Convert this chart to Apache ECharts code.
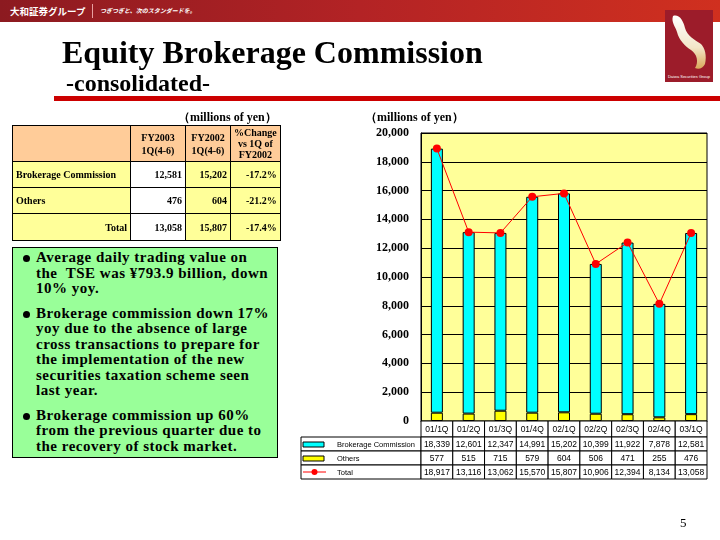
<!DOCTYPE html>
<html>
<head>
<meta charset="utf-8">
<script src="https://cdn.jsdelivr.net/npm/echarts@6/dist/echarts.min.js"></script>
<style>
  body { margin: 0; background: #fff; }
  #page { position: relative; width: 720px; height: 540px; overflow: hidden; font-family: "Liberation Serif", serif; }
  #chart { position: absolute; left: 0; top: 0; width: 720px; height: 540px; }
  .abs { position: absolute; z-index: 2; }
  #topbar { left: 0; top: 0; width: 720px; height: 22px; background: linear-gradient(to right, #8c1a20, #b32325 50%, #d0301f); }
  #brand { left: 10px; top: 4px; color: #fff; font: bold 9.5px "Noto Sans CJK JP"; }
  #sep { left: 92px; top: 4px; width: 1px; height: 14px; background: #e8a0a0; }
  #slogan { left: 100px; top: 6px; color: #fff; font: italic bold 6px "Noto Sans CJK JP"; }
  #title { left: 62px; top: 34px; font-weight: bold; font-size: 32px; line-height: 36px; }
  #subtitle { left: 66px; top: 70px; font-weight: bold; font-size: 24px; line-height: 26px; }
  #rule { left: 54px; top: 96px; width: 666px; height: 5px; background: #cc0000; }
  #unit1 { left: 178px; top: 109px; font-weight: bold; font-size: 12px; }
  #tbl { left: 12px; top: 125px; border-collapse: collapse; font-weight: bold; font-size: 10px; }
  #tbl td { border: 1px solid #000; padding: 0 3px; background: #ffff99; }
  #tbl tr.h td { background: #ffcc99; text-align: center; line-height: 13px; }
  #tbl td.w { background: #fff; }
  #tbl td.r { text-align: right; }
  #notes { left: 12px; top: 247px; width: 264px; height: 209px; background: #99ff99; border: 1px solid #000; }
  #notes ul { margin: 0; padding: 2px 0 0 23px; list-style: none; }
  #notes li { position: relative; font-weight: bold; font-size: 15px; line-height: 15.5px; margin-bottom: 9px; white-space: nowrap; letter-spacing: 0.5px; }
  #notes li::before { content: ""; position: absolute; left: -13px; top: 5px; width: 7px; height: 7px; border-radius: 50%; background: #000; }
  #pnum { left: 680px; top: 515px; font-size: 13px; }
  #logo { left: 665px; top: 10px; }
</style>
</head>
<body>
<div id="page">
  <div id="chart"></div>
  <div id="topbar" class="abs"></div>
  <div id="brand" class="abs">大和証券グループ</div>
  <div id="sep" class="abs"></div>
  <div id="slogan" class="abs">つぎつぎと、次のスタンダードを。</div>
  <svg id="logo" class="abs" width="48" height="72" viewBox="0 0 48 72">
    <defs>
      <linearGradient id="bird" x1="0" y1="0" x2="0" y2="1">
        <stop offset="0" stop-color="#ffffff"/>
        <stop offset="0.6" stop-color="#f3e6c8"/>
        <stop offset="1" stop-color="#d9a85a"/>
      </linearGradient>
    </defs>
    <rect width="48" height="72" fill="#9c1c2a"/>
    <path d="M8 6 C14 4 18 10 20 18 C22 26 30 30 36 34 C40 38 42 46 40 54 C38 58 34 60 30 58 C34 52 32 44 26 40 C20 36 14 30 12 22 C10 16 6 12 8 6 Z" fill="url(#bird)"/>
    <text x="24" y="68" text-anchor="middle" fill="#fff" font-size="4" font-family="Liberation Sans">Daiwa Securities Group</text>
  </svg>
  <div id="title" class="abs">Equity Brokerage Commission</div>
  <div id="subtitle" class="abs">-consolidated-</div>
  <div id="rule" class="abs"></div>
  <div id="unit1" class="abs">（millions of yen）</div>
  <table id="tbl" class="abs">
    <tr class="h" style="height:36px"><td style="width:111px"></td><td style="width:48px">FY2003<br>1Q(4-6)</td><td style="width:38px">FY2002<br>1Q(4-6)</td><td style="width:40px;line-height:11px">%Change<br>vs 1Q of<br>FY2002</td></tr>
    <tr style="height:26px"><td>Brokerage Commission</td><td class="w r">12,581</td><td class="r">15,202</td><td class="r">-17.2%</td></tr>
    <tr style="height:26px"><td>Others</td><td class="w r">476</td><td class="r">604</td><td class="r">-21.2%</td></tr>
    <tr style="height:27px"><td class="r">Total</td><td class="w r">13,058</td><td class="r">15,807</td><td class="r">-17.4%</td></tr>
  </table>
  <div id="notes" class="abs">
    <ul>
      <li>Average daily trading value on<br>the&nbsp; TSE was ¥793.9 billion, down<br>10% yoy.</li>
      <li>Brokerage commission down 17%<br>yoy due to the absence of large<br>cross transactions to prepare for<br>the implementation of the new<br>securities taxation scheme seen<br>last year.</li>
      <li>Brokerage commission up 60%<br>from the previous quarter due to<br>the recovery of stock market.</li>
    </ul>
  </div>
  <div id="pnum" class="abs">5</div>
</div>
<script>
// quarters and values (millions of yen)
var quarters = ['01/1Q', '01/2Q', '01/3Q', '01/4Q', '02/1Q', '02/2Q', '02/3Q', '02/4Q', '03/1Q'];
var brokerage = [18339, 12601, 12347, 14991, 15202, 10399, 11922, 7878, 12581];
var others = [577, 515, 715, 579, 604, 506, 471, 255, 476];
var total = [18917, 13116, 13062, 15570, 15807, 10906, 12394, 8134, 13058];
var seriesNames = ['Brokerage Commission', 'Others', 'Total'];

var fmt = function (v) { return v.toLocaleString('en-US'); };

var chart = echarts.init(document.getElementById('chart'));

var option = {
  animation: false,
  grid: {
    left: 421, top: 133, width: 286, height: 288,
    show: true, backgroundColor: '#ffff99', borderColor: '#000', borderWidth: 1
  },
  xAxis: {
    type: 'category',
    data: quarters,
    axisLine: { lineStyle: { color: '#000' } },
    axisTick: { show: false },
    axisLabel: { show: false }
  },
  yAxis: {
    type: 'value',
    min: 0, max: 20000, interval: 2000,
    axisLine: { show: true, lineStyle: { color: '#000' } },
    axisTick: { show: false },
    splitLine: { lineStyle: { color: '#000', width: 1 } },
    axisLabel: {
      formatter: fmt, margin: 12, color: '#000',
      fontFamily: 'Liberation Serif', fontWeight: 'bold', fontSize: 12
    }
  },
  series: [
    {
      name: seriesNames[1], type: 'bar', stack: 'q', data: others, barWidth: 12,
      itemStyle: { color: '#ffff00', borderColor: '#000', borderWidth: 1 }
    },
    {
      name: seriesNames[0], type: 'bar', stack: 'q', data: brokerage, barWidth: 12,
      itemStyle: { color: '#00ffff', borderColor: '#000', borderWidth: 1 }
    },
    {
      name: seriesNames[2], type: 'line', data: total,
      symbol: 'circle', symbolSize: 8,
      lineStyle: { color: '#ff0000', width: 1 },
      itemStyle: { color: '#ff0000' },
      z: 5
    }
  ]
};
chart.setOption(option);

// data table under the plot, aligned to the category axis
function buildTable() {
  var c0 = chart.convertToPixel({ xAxisIndex: 0 }, 0);
  var c1 = chart.convertToPixel({ xAxisIndex: 0 }, 1);
  var bw = c1 - c0;
  var left = c0 - bw / 2;
  var legLeft = 301;
  var rows = [421, 437, 451, 465, 479];
  var g = [];
  function cell(x, y, w, h, s, isLegend) {
    g.push({ type: 'rect', shape: { x: x, y: y, width: w, height: h }, style: { fill: '#fff', stroke: '#000', lineWidth: 1 }, z: 10 });
    g.push({
      type: 'text', z: 11,
      x: isLegend ? x + 36 : x + w / 2, y: y + h / 2 + 0.5,
      style: {
        text: s, align: isLegend ? 'left' : 'center', verticalAlign: 'middle',
        fontFamily: 'Liberation Sans', fontSize: isLegend ? 7.5 : 8.5, fill: '#000'
      }
    });
  }
  quarters.forEach(function (q, i) {
    cell(left + i * bw, rows[0], bw, rows[1] - rows[0], q);
  });
  var rowData = [brokerage, others, total];
  rowData.forEach(function (arr, r) {
    cell(legLeft, rows[r + 1], left - legLeft, rows[r + 2] - rows[r + 1], seriesNames[r], true);
    arr.forEach(function (v, i) {
      cell(left + i * bw, rows[r + 1], bw, rows[r + 2] - rows[r + 1], fmt(v));
    });
  });
  // legend keys
  g.push({ type: 'rect', z: 12, shape: { x: 303, y: rows[1] + 5, width: 21, height: 5 }, style: { fill: '#00ffff', stroke: '#000', lineWidth: 1 } });
  g.push({ type: 'rect', z: 12, shape: { x: 303, y: rows[2] + 5, width: 21, height: 5 }, style: { fill: '#ffff00', stroke: '#000', lineWidth: 1 } });
  g.push({ type: 'line', z: 12, shape: { x1: 303, y1: rows[3] + 7, x2: 326, y2: rows[3] + 7 }, style: { stroke: '#ff0000', lineWidth: 1 } });
  g.push({ type: 'circle', z: 13, shape: { cx: 314.5, cy: rows[3] + 7, r: 3 }, style: { fill: '#ff0000' } });
  // unit label above the value axis
  g.push({
    type: 'text', x: 365, y: 112, z: 11,
    style: { text: '（millions of yen）', fontFamily: 'Liberation Serif', fontWeight: 'bold', fontSize: 12, fill: '#000' }
  });
  chart.setOption({ graphic: g });
}
buildTable();
</script>
</body>
</html>
